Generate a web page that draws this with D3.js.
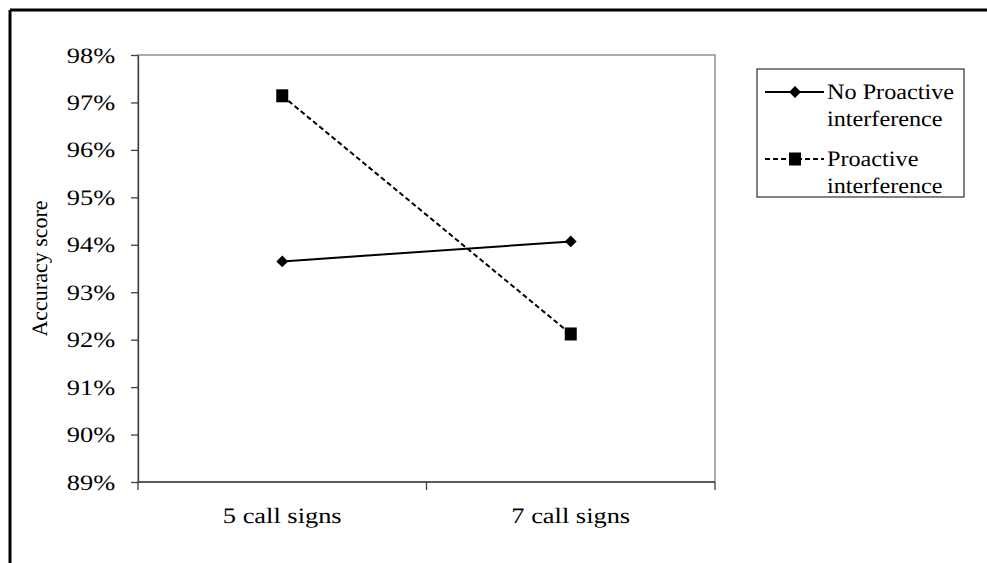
<!DOCTYPE html>
<html>
<head>
<meta charset="utf-8">
<script src="https://cdn.jsdelivr.net/npm/d3@7"></script>
<style>
  body { margin: 0; background: #fff; }
  svg text { font-family: "Liberation Serif", "Times New Roman", serif; fill: #000; text-rendering: geometricPrecision; }
  .axis path, .axis line { stroke: #404040; stroke-width: 1.3; }
  .axis text { font-size: 22px; }
</style>
</head>
<body>
<script>
var categories = ["5 call signs", "7 call signs"];
var seriesNames = ["No Proactive interference", "Proactive interference"];
var noProactive = [93.65, 94.07];
var proactive = [97.14, 92.12];
var yTicks = [89, 90, 91, 92, 93, 94, 95, 96, 97, 98];

var width = 987, height = 563;
var plot = {left: 138, right: 715, top: 55, bottom: 482};
var serif = "Liberation Serif";
var stretch = 1.2; // reference text is drawn wider than the font's normal width

var svg = d3.select("body").append("svg")
    .attr("width", width)
    .attr("height", height)
    .attr("font-family", serif);

// outer frame (only top and left edges are visible)
svg.append("line").attr("x1", 10).attr("y1", 10).attr("x2", width).attr("y2", 10)
    .attr("stroke", "#000").attr("stroke-width", 3);
svg.append("line").attr("x1", 10).attr("y1", 10).attr("x2", 10).attr("y2", height)
    .attr("stroke", "#000").attr("stroke-width", 3);

var x = d3.scaleBand().domain(categories).range([plot.left, plot.right]);
var y = d3.scaleLinear().domain([89, 98]).range([plot.bottom, plot.top]);

// plot area border
svg.append("rect")
    .attr("x", plot.left).attr("y", plot.top)
    .attr("width", plot.right - plot.left).attr("height", plot.bottom - plot.top)
    .attr("fill", "none").attr("stroke", "#808080").attr("stroke-width", 1.3);

var yAxis = svg.append("g").attr("class", "axis")
    .attr("transform", "translate(" + plot.left + ",0)")
    .call(d3.axisLeft(y).tickValues(yTicks).tickSize(7).tickSizeOuter(0).tickPadding(12)
        .tickFormat(function(d) { return d + "%"; }));
yAxis.attr("font-family", serif).attr("font-size", 22);
yAxis.selectAll(".tick text").attr("transform", "scale(" + stretch + ",1)");

// x axis: ticks at band edges, labels at band centres
var xAxis = svg.append("g").attr("class", "axis")
    .attr("transform", "translate(0," + plot.bottom + ")");
xAxis.append("line").attr("x1", plot.left).attr("x2", plot.right);
var edges = [plot.left].concat(categories.map(function(c) { return x(c) + x.bandwidth(); }));
xAxis.selectAll(".edge").data(edges).enter().append("line")
    .attr("class", "edge")
    .attr("x1", function(d) { return d; }).attr("x2", function(d) { return d; })
    .attr("y1", 0).attr("y2", 8);
xAxis.selectAll(".lbl").data(categories).enter().append("text")
    .attr("class", "lbl")
    .attr("transform", function(d) {
        return "translate(" + (x(d) + x.bandwidth() / 2) + ",41) scale(" + stretch + ",1)";
    })
    .attr("text-anchor", "middle")
    .text(function(d) { return d; });

svg.append("text")
    .attr("transform", "translate(47," + ((plot.top + plot.bottom) / 2) + ") rotate(-90)")
    .attr("text-anchor", "middle")
    .style("font-size", "22px")
    .text("Accuracy score");

var cx = function(d, i) { return x(categories[i]) + x.bandwidth() / 2; };
var line = d3.line().x(cx).y(function(d) { return y(d); });

svg.append("path").datum(noProactive)
    .attr("d", line).attr("fill", "none")
    .attr("stroke", "#000").attr("stroke-width", 2);
svg.append("path").datum(proactive)
    .attr("d", line).attr("fill", "none")
    .attr("stroke", "#000").attr("stroke-width", 2).attr("stroke-dasharray", "5,3");

var diamond = d3.symbol().type(d3.symbolSquare).size(70);
svg.selectAll(".dia").data(noProactive).enter().append("path")
    .attr("class", "dia")
    .attr("d", diamond)
    .attr("transform", function(d, i) { return "translate(" + cx(d, i) + "," + y(d) + ") rotate(45)"; });
svg.selectAll(".sq").data(proactive).enter().append("rect")
    .attr("class", "sq")
    .attr("x", function(d, i) { return cx(d, i) - 6; })
    .attr("y", function(d) { return y(d) - 6.5; })
    .attr("width", 12).attr("height", 13);

// legend
var lg = svg.append("g");
lg.append("rect").attr("x", 757).attr("y", 69).attr("width", 207).attr("height", 128)
    .attr("fill", "#fff").attr("stroke", "#404040").attr("stroke-width", 1.3);
var lgY = [92, 159];
seriesNames.forEach(function(name, i) {
    lg.append("line").attr("x1", 765).attr("x2", 824).attr("y1", lgY[i]).attr("y2", lgY[i])
        .attr("stroke", "#000").attr("stroke-width", 2)
        .attr("stroke-dasharray", i === 1 ? "5,3" : null);
    if (i === 0) {
        lg.append("path").attr("d", diamond)
            .attr("transform", "translate(795," + lgY[i] + ") rotate(45)");
    } else {
        lg.append("rect").attr("x", 789).attr("y", lgY[i] - 6.5).attr("width", 12).attr("height", 13);
    }
    var words = i === 0 ? ["No Proactive", "interference"] : ["Proactive", "interference"];
    var t = lg.append("text")
        .attr("transform", "translate(827," + (lgY[i] + 7) + ") scale(1.1,1)")
        .style("font-size", "22px");
    words.forEach(function(w, j) {
        t.append("tspan").attr("x", 0).attr("dy", j === 0 ? 0 : 27).text(w);
    });
});
</script>
</body>
</html>
